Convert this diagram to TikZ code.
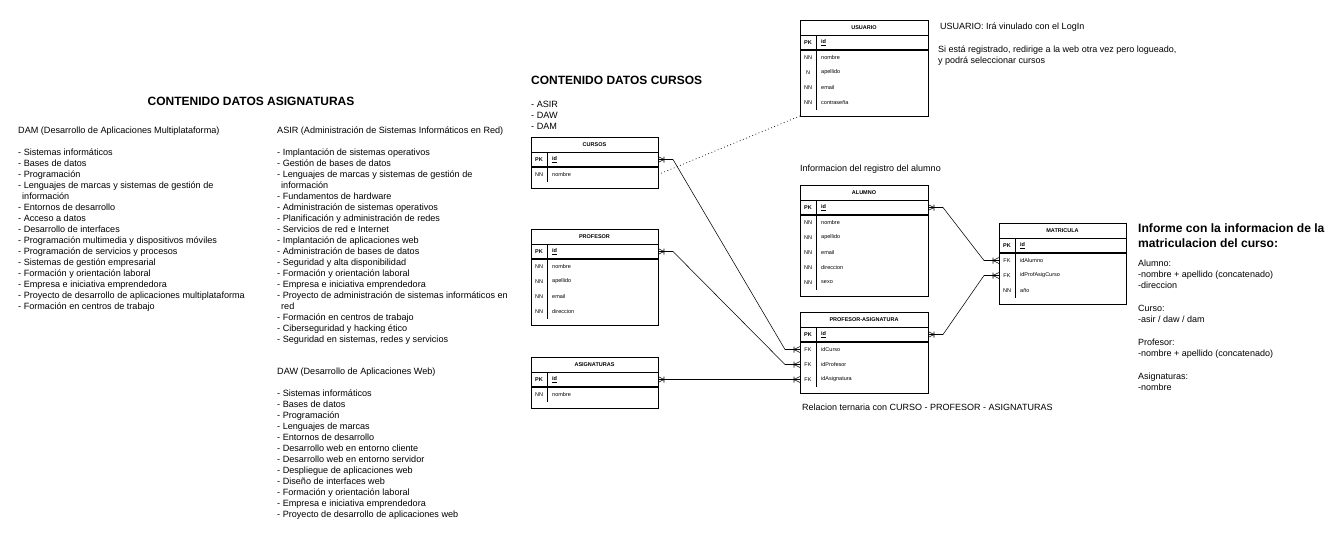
\documentclass[tikz,border=0pt]{standalone}
\usepackage{fontspec}
\setmainfont{Liberation Sans}
\usetikzlibrary{calc}
\tikzset{
  conn/.style={draw=black, line width=0.55pt},
  tbl/.style={draw=black, line width=0.6pt},
  dotline/.style={draw=black, line width=0.7pt, dash pattern=on 0.8pt off 2.6pt},
  rowbox/.style={draw=none, inner sep=0pt, outer sep=0pt, minimum height=15pt},
  tabfont/.style={font=\fontsize{5.5}{6.5}\selectfont},
  hdrtxt/.style={font=\fontsize{5.5}{6.5}\selectfont\bfseries, inner sep=0pt},
  keytxt/.style={tabfont, inner sep=0pt},
  fldtxt/.style={tabfont, inner sep=0pt, anchor=west},
  bigtitle/.style={font=\fontsize{12}{15}\selectfont\bfseries, inner sep=0pt},
  body/.style={font=\fontsize{9.1}{11}\selectfont, inner sep=0pt, align=left},
  small/.style={font=\fontsize{9}{11}\selectfont, inner sep=0pt, align=left},
  crowE/.pic={\draw[conn] (0,-3) -- (6,0) -- (0,3) (6,-3) -- (6,3);},
  crowW/.pic={\draw[conn] (0,-3) -- (-6,0) -- (0,3) (-6,-3) -- (-6,3);},
}
% #1 name, #2 x, #3 y, #4 width, #5 number of non-PK rows, #6 title, #7 rows key/field
\newcommand\ertable[7]{%
  \begin{scope}[shift={(#2,#3)}]
    \node[tbl, anchor=north west, minimum width=#4pt, minimum height={(15*#5+36)*1pt}, inner sep=0pt, outer sep=0pt] (#1) at (0,0) {};
    \draw[tbl] (0,15) -- (#4,15);
    \draw[black, line width=1.1pt] (0,30) -- (#4,30);
    \draw[tbl] (16,15) -- (16,{30+15*#5});
    \node[hdrtxt] at ({#4/2},7.5) {#6};
    \node[rowbox, minimum width=#4pt] (#1-pk) at ({#4/2},22.5) {};
    \node[keytxt] at (8,22.5) {\textbf{PK}};
    \node[fldtxt] at (21,22.5) {\textbf{\underline{id}}};
    \foreach[count=\i] \k/\f in {#7} {
      \node[rowbox, minimum width=#4pt] (#1-r\i) at ({#4/2},{30+15*\i-7.5}) {};
      \node[keytxt] at (8,{30+15*\i-7.5}) {\k};
      \node[fldtxt] at (21,{30+15*\i-7.5}) {\f};
    }
  \end{scope}%
}
\begin{document}
\begin{tikzpicture}[x=1pt,y=-1pt]
\fill[white] (0,0) rectangle (1341,536);
\useasboundingbox (0,0) rectangle (1341,536);

% ---------- headings ----------
\node[bigtitle, anchor=center] (hasig) at (251,101) {CONTENIDO DATOS ASIGNATURAS};
\node[bigtitle, anchor=west] (hcur) at (531,80) {CONTENIDO DATOS CURSOS};

% ---------- DAM ----------
\node[body, anchor=north west] (dam) at (18,127) {%
DAM (Desarrollo de Aplicaciones Multiplataforma)\\[11pt]
- Sistemas informáticos\\
- Bases de datos\\
- Programación\\
- Lenguajes de marcas y sistemas de gestión de\\
\hspace*{4pt}información\\
- Entornos de desarrollo\\
- Acceso a datos\\
- Desarrollo de interfaces\\
- Programación multimedia y dispositivos móviles\\
- Programación de servicios y procesos\\
- Sistemas de gestión empresarial\\
- Formación y orientación laboral\\
- Empresa e iniciativa emprendedora\\
- Proyecto de desarrollo de aplicaciones multiplataforma\\
- Formación en centros de trabajo};

% ---------- ASIR ----------
\node[body, anchor=north west] (asir) at (277,127) {%
ASIR (Administración de Sistemas Informáticos en Red)\\[11pt]
- Implantación de sistemas operativos\\
- Gestión de bases de datos\\
- Lenguajes de marcas y sistemas de gestión de\\
\hspace*{4pt}información\\
- Fundamentos de hardware\\
- Administración de sistemas operativos\\
- Planificación y administración de redes\\
- Servicios de red e Internet\\
- Implantación de aplicaciones web\\
- Administración de bases de datos\\
- Seguridad y alta disponibilidad\\
- Formación y orientación laboral\\
- Empresa e iniciativa emprendedora\\
- Proyecto de administración de sistemas informáticos en\\
\hspace*{4pt}red\\
- Formación en centros de trabajo\\
- Ciberseguridad y hacking ético\\
- Seguridad en sistemas, redes y servicios};

% ---------- DAW ----------
\node[body, anchor=north west] (daw) at (277,368) {%
DAW (Desarrollo de Aplicaciones Web)\\[11pt]
- Sistemas informáticos\\
- Bases de datos\\
- Programación\\
- Lenguajes de marcas\\
- Entornos de desarrollo\\
- Desarrollo web en entorno cliente\\
- Desarrollo web en entorno servidor\\
- Despliegue de aplicaciones web\\
- Diseño de interfaces web\\
- Formación y orientación laboral\\
- Empresa e iniciativa emprendedora\\
- Proyecto de desarrollo de aplicaciones web};

% ---------- cursos list ----------
\node[body, anchor=north west] (curlist) at (531,101) {- ASIR\\- DAW\\- DAM};

% ---------- tables ----------
\ertable{cursos}{531}{137}{127}{1}{CURSOS}{NN/nombre}
\ertable{profesor}{531}{229}{127}{4}{PROFESOR}{NN/nombre, NN/apellido, NN/email, NN/direccion}
\ertable{asignaturas}{531}{357}{127}{1}{ASIGNATURAS}{NN/nombre}
\ertable{usuario}{800}{20}{128}{4}{USUARIO}{NN/nombre, N/apellido, NN/email, NN/contraseña}
\ertable{alumno}{800}{185}{128}{5}{ALUMNO}{NN/nombre, NN/apellido, NN/email, NN/direccion, NN/sexo}
\ertable{pa}{800}{312}{128}{3}{PROFESOR-ASIGNATURA}{FK/idCurso, FK/idProfesor, FK/idAsignatura}
\ertable{matricula}{999}{223}{127}{3}{MATRICULA}{FK/idAlumno, FK/idProfAsigCurso, NN/año}

% ---------- notes ----------
\node[small, anchor=west] (nusu) at (940,27) {USUARIO: Irá vinulado con el LogIn};
\node[small, anchor=north west] (nreg) at (938,46) {Si está registrado, redirige a la web otra vez pero logueado,\\y podrá seleccionar cursos};
\node[small, anchor=west] (nalu) at (800,169) {Informacion del registro del alumno};
\node[small, anchor=west] (nter) at (802,407) {Relacion ternaria con CURSO - PROFESOR - ASIGNATURAS};

\node[font=\fontsize{12.1}{15}\selectfont\bfseries, inner sep=0pt, align=left, anchor=north west] (ninf) at (1138,224) {Informe con la informacion de la\\matriculacion del curso:};
\node[small, anchor=north west] (nrep) at (1138,260) {%
Alumno:\\-nombre + apellido (concatenado)\\-direccion\\[12pt]
Curso:\\-asir / daw / dam\\[12pt]
Profesor:\\-nombre + apellido (concatenado)\\[12pt]
Asignaturas:\\-nombre};

% ---------- connectors ----------
\draw[conn] (cursos-pk.east) -- ++(15,0) -- ($(pa-r1.west)+(-15,0)$) -- (pa-r1.west);
\draw[conn] (profesor-pk.east) -- ++(15,0) -- ($(pa-r2.west)+(-15,0)$) -- (pa-r2.west);
\draw[conn] (asignaturas-pk.east) -- (pa-r3.west);
\draw[conn] (alumno-pk.east) -- ++(15,0) -- ($(matricula-r1.west)+(-15,0)$) -- (matricula-r1.west);
\draw[conn] (pa-pk.east) -- ++(15,0) -- ($(matricula-r2.west)+(-15,0)$) -- (matricula-r2.west);
\draw[dotline] (cursos-r1.east) -- (usuario.south west);

% ---------- markers ----------
\pic at (cursos-pk.east) {crowE};
\pic at (profesor-pk.east) {crowE};
\pic at (asignaturas-pk.east) {crowE};
\pic at (alumno-pk.east) {crowE};
\pic at (pa-pk.east) {crowE};
\pic at (pa-r1.west) {crowW};
\pic at (pa-r2.west) {crowW};
\pic at (pa-r3.west) {crowW};
\pic at (matricula-r1.west) {crowW};
\pic at (matricula-r2.west) {crowW};
\end{tikzpicture}
\end{document}
